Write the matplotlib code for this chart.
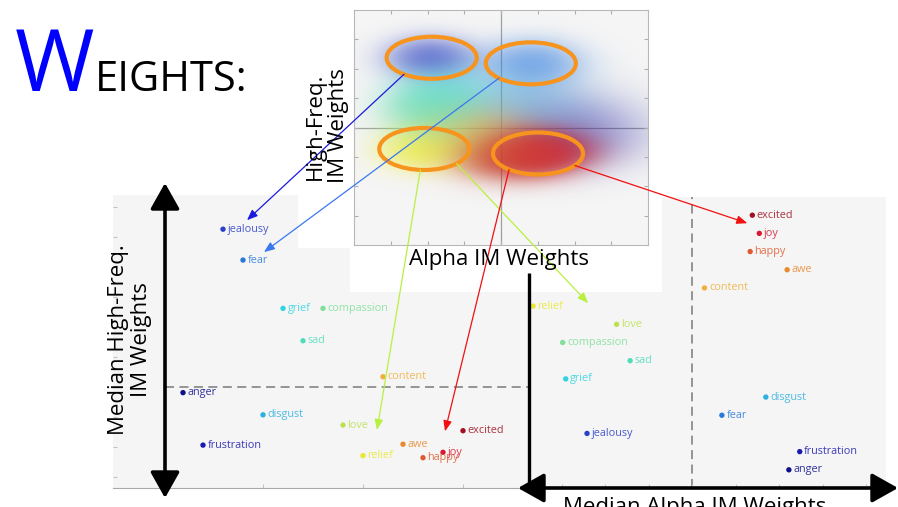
import numpy as np
import matplotlib
matplotlib.use("Agg")
import matplotlib.pyplot as plt
from matplotlib.patches import Ellipse, Rectangle
from matplotlib.colors import to_rgb

W, H = 898, 507
plt.rcParams["font.family"] = ["Open Sans", "DejaVu Sans"]

# emotions, ordered along the shared rank axis
emotions = ["anger", "frustration", "jealousy", "fear", "disgust", "grief", "sad",
            "compassion", "love", "relief", "content", "awe", "happy", "joy", "excited"]
order = [1, 2, 3, 4, 5, 6, 7, 8, 9, 10, 11, 12, 13, 14, 15]
hf_median = [-0.019, -0.194, 0.526, 0.423, -0.093, 0.262, 0.154,
             0.262, -0.127, -0.229, 0.034, -0.191, -0.236, -0.218, -0.146]
alpha_median = [0.222, 0.247, -0.242, 0.068, 0.169, -0.291, -0.143,
                -0.298, -0.174, -0.366, 0.028, 0.218, 0.133, 0.154, 0.138]
colors = ["#10108a", "#1a1ab0", "#2a40c8", "#2a78d8", "#30b0e0", "#30d4e0", "#50dcb8",
          "#80e098", "#bde050", "#e8e830", "#f0b040", "#e88a30", "#e05a30", "#d81830", "#a01020"]

# per-trial weight clusters in the small scatter (centre, spread, weight)
cl_x = [-1.93, 0.84, 0.52, -1.5, -1.85, -1.95, -1.25, -2.2, -0.57, -0.03, 0.79, 1.2, 0.38, 1.9, 2.1]
cl_y = [2.38, 2.21, 0.95, 1.25, 0.75, 0.55, -0.2, -0.75, -0.05, -0.65, -0.82, -0.75, -1.0, 0.15, -0.4]
cl_sx = [0.75, 0.85, 1.1, 0.8, 0.8, 0.8, 0.8, 0.7, 0.9, 0.9, 0.8, 0.8, 1.0, 1.3, 1.2]
cl_sy = [0.45, 0.5, 0.7, 0.6, 0.6, 0.6, 0.6, 0.45, 0.6, 0.6, 0.45, 0.4, 0.5, 0.8, 0.7]
cl_amp = [0.85, 0.8, 0.5, 0.6, 0.6, 0.55, 0.5, 1.0, 0.55, 0.6, 1.2, 1.2, 0.8, 0.3, 0.3]
cl_color = ["#2838c0", "#3a80e0", "#40a8e0", "#40d8e0", "#50dcb8", "#80e0a0", "#c0e060",
            "#f0f030", "#f0b040", "#e08030", "#e02020", "#e01818", "#b01818", "#2a2aa0", "#3030b0"]

# highlighted clusters: centre and size in scatter units
ell_x = [-1.886, 0.811, -2.087, 1.007]
ell_y = [2.374, 2.184, -0.731, -0.884]
ell_w, ell_h = 2.45, 1.43

# arrows: (ellipse, angle on ellipse, panel, emotion, tip offset px, colour)
arrows = [(0, 128, "L", "jealousy", (24, -9), "#1a1add"),
          (1, 135, "L", "fear", (21, -8), "#3a78f0"),
          (2, 95, "L", "love", (34, 5), "#b8f040"),
          (2, 44, "R", "relief", (55, -3), "#b8f040"),
          (3, 130, "L", "joy", (2, -21), "#f01010"),
          (3, 35, "R", "excited", (-5, 8), "#f01010")]


def rect(x0, y0, x1, y1):
    return [x0 / W, 1 - y1 / H, (x1 - x0) / W, (y1 - y0) / H]


fig = plt.figure(figsize=(W / 100, H / 100), dpi=100)
fig.patch.set_facecolor("white")

panel_bg = "#f5f5f5"
tick_c = "#c4c4c4"

# left panel: rank vs median high-freq weight
ax_l = fig.add_axes(rect(113, 195, 530, 488), zorder=1)
ax_l.set_facecolor(panel_bg)
ax_l.set_xlim(-2.5, 18.35)
ax_l.set_ylim(-0.337, 0.64)
ax_l.set_xticks([0, 5, 10, 15])
ax_l.set_yticks(np.arange(-0.3, 0.61, 0.1))
ax_l.tick_params(direction="in", length=3, color=tick_c, labelbottom=False, labelleft=False)
for s in ["top", "right", "left"]:
    ax_l.spines[s].set_visible(False)
ax_l.spines["bottom"].set_color("#a8a8a8")
ax_l.plot([0.1, 18.35], [0, 0], color="#8c8c8c", lw=1.3, dashes=(5, 3), zorder=1)
ax_l.scatter(order, hf_median, c=colors, s=15, zorder=3, linewidths=0)
for name, x, y, c in zip(emotions, order, hf_median, colors):
    ax_l.annotate(name, (x, y), xytext=(3.2, 0), textcoords="offset points",
                  va="center", ha="left", fontsize=7.8, color=c, alpha=0.85)

# right panel: median alpha weight vs rank
ax_r = fig.add_axes(rect(529, 197, 886, 488), zorder=1)
ax_r.set_facecolor(panel_bg)
ax_r.set_xlim((529 - 692.3) / 435, (886 - 692.3) / 435)
ax_r.set_ylim(0.0, 16.0)
ax_r.set_xticks(np.arange(-0.3, 0.41, 0.1))
ax_r.set_yticks([])
ax_r.tick_params(direction="in", length=3, color=tick_c, labelbottom=False, labelleft=False)
for s in ax_r.spines.values():
    s.set_visible(False)
ax_r.plot([0, 0], [0, 16], color="#8c8c8c", lw=1.3, dashes=(5, 3), zorder=1)
ax_r.scatter(alpha_median, order, c=colors, s=15, zorder=3, linewidths=0, clip_on=False)
for name, x, y, c in zip(emotions, alpha_median, order, colors):
    ax_r.annotate(name, (x, y), xytext=(3.2, 0), textcoords="offset points",
                  va="center", ha="left", fontsize=7.8, color=c, alpha=0.85)

# white backing behind the small scatter and its labels
mask = fig.add_axes([0, 0, 1, 1], zorder=2)
mask.set_xlim(0, W)
mask.set_ylim(H, 0)
mask.axis("off")
mask.add_patch(Rectangle((298, 185), 60, 63, color="white", lw=0))
mask.add_patch(Rectangle((350, 0), 312, 292, color="white", lw=0))

# small scatter of all trials
ax_s = fig.add_axes(rect(354, 10, 648, 245), zorder=3)
ax_s.set_facecolor(panel_bg)
ax_s.set_xlim(-4, 4)
ax_s.set_ylim(-4, 4)
ax_s.set_xticks(range(-3, 4))
ax_s.set_yticks(range(-3, 4))
ax_s.tick_params(direction="in", length=3, color="#b0b0b0", top=True, right=True,
                 labelbottom=False, labelleft=False)
for s in ax_s.spines.values():
    s.set_color("#b8b8b8")
    s.set_linewidth(0.8)
ax_s.axhline(0, color="#a0a0a0", lw=0.9, zorder=0.5)
ax_s.axvline(0, color="#a0a0a0", lw=0.9, zorder=0.5)

gx = np.linspace(-4, 4, 400)
gy = np.linspace(-4, 4, 320)
X, Y = np.meshgrid(gx, gy)
total = np.zeros_like(X)
rgb = np.zeros(X.shape + (3,))
for cx, cy, sx, sy, amp, col in zip(cl_x, cl_y, cl_sx, cl_sy, cl_amp, cl_color):
    g = amp * np.exp(-0.5 * ((X - cx) / sx) ** 2 - 0.5 * ((Y - cy) / sy) ** 2)
    total += g
    rgb += g[..., None] * np.array(to_rgb(col))
rgb /= np.maximum(total, 1e-9)[..., None]
alpha = 0.92 * (1 - np.exp(-1.3 * total))
ax_s.imshow(np.dstack([rgb, alpha]), extent=(-4, 4, -4, 4), origin="lower",
            aspect="auto", interpolation="bilinear", zorder=1)
for ex, ey in zip(ell_x, ell_y):
    ax_s.add_patch(Ellipse((ex, ey), ell_w, ell_h, fill=False, edgecolor="#f7941d",
                           lw=3, zorder=4, clip_on=False))

# top layer: axis arrows, labels, callouts
ov = fig.add_axes([0, 0, 1, 1], zorder=5)
ov.set_xlim(0, W)
ov.set_ylim(H, 0)
ov.axis("off")
ov.patch.set_visible(False)


def to_px(ax, x, y):
    dx, dy = ax.transData.transform((x, y))
    return dx, H - dy


big = dict(arrowstyle="<|-|>,head_length=0.8,head_width=0.45", color="black",
           lw=2.6, mutation_scale=20, shrinkA=0, shrinkB=0)
ov.annotate("", xy=(165, 183), xytext=(165, 498), arrowprops=big)
ov.annotate("", xy=(898, 488), xytext=(518, 488), arrowprops=big)
ov.plot([529, 529], [273, 488], color="black", lw=2.4, solid_capstyle="butt")

for ei, ang, side, emo, off, col in arrows:
    cx, cy = to_px(ax_s, ell_x[ei], ell_y[ei])
    rx = ell_w / 8 * 294 / 2
    ry = ell_h / 8 * 235 / 2
    t = np.deg2rad(ang)
    start = (cx + rx * np.cos(t), cy + ry * np.sin(t))
    k = emotions.index(emo)
    if side == "L":
        px, py = to_px(ax_l, order[k], hf_median[k])
    else:
        px, py = to_px(ax_r, alpha_median[k], order[k])
    tip = (px + off[0], py + off[1])
    ov.annotate("", xy=tip, xytext=start,
                arrowprops=dict(arrowstyle="-|>,head_length=0.7,head_width=0.28",
                                color=col, lw=0.9, mutation_scale=9,
                                shrinkA=0, shrinkB=0))

ov.text(15, 91, "W", color="#0000ff", fontsize=62, va="baseline", ha="left")
ov.text(95, 91, "EIGHTS:", color="black", fontsize=30, va="baseline", ha="left")
ov.text(327, 126, "High-Freq.\nIM Weights", rotation=90, fontsize=16, ha="center",
        va="center", multialignment="center", linespacing=1.15)
ov.text(499, 260, "Alpha IM Weights", fontsize=16, ha="center", va="center")
ov.text(130, 340, "Median High-Freq.\nIM Weights", rotation=90, fontsize=16,
        ha="center", va="center", multialignment="center", linespacing=1.1)
ov.text(695, 513, "Median Alpha IM Weights", fontsize=16, ha="center", va="baseline")

fig.savefig("out.png", dpi=100)
